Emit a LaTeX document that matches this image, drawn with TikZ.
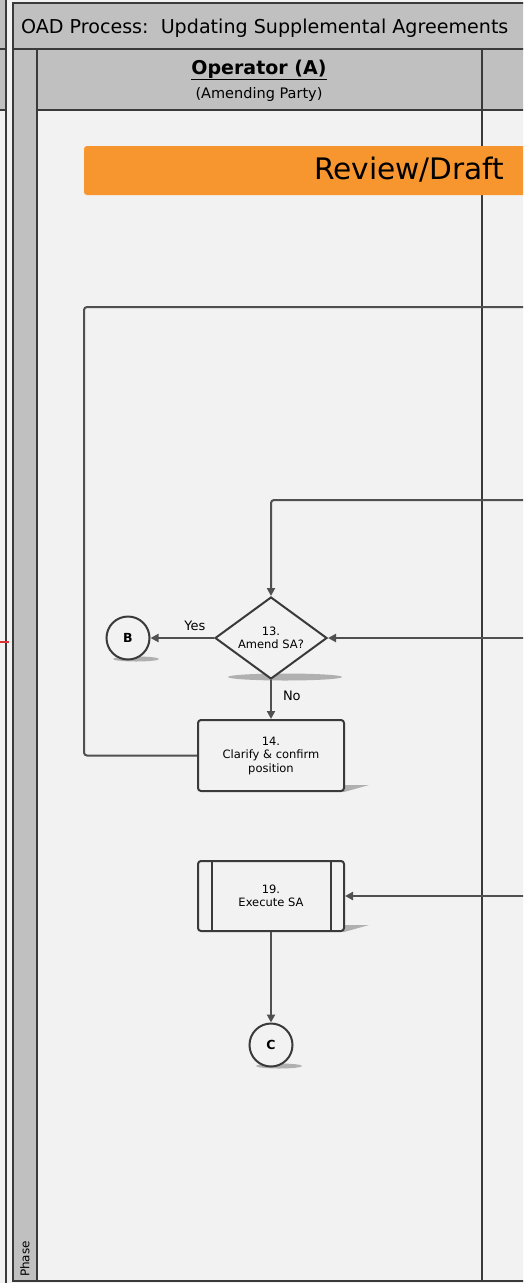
\documentclass[tikz,border=0pt]{standalone}
\usepackage{fontspec}
\setmainfont{DejaVu Sans}
\usetikzlibrary{shapes.geometric,arrows.meta}
\definecolor{lanebg}{HTML}{F2F2F2}
\definecolor{hdr}{HTML}{C0C0C0}
\definecolor{framec}{HTML}{3A3A3A}
\definecolor{conn}{HTML}{505050}
\definecolor{orng}{HTML}{F7962F}
\definecolor{shad}{HTML}{B0B0B0}
\definecolor{redl}{HTML}{DD3333}
\tikzset{
  frameline/.style={draw=framec, line width=2.4pt},
  proc/.style={draw=framec, line width=2pt, rounded corners=3pt, fill=lanebg, minimum width=146pt, inner sep=0pt, align=center, font=\fontsize{11.5}{13.5}\selectfont},
  decis/.style={draw=framec, line width=2pt, diamond, aspect=1.366, minimum width=112pt, minimum height=82pt, inner sep=0pt, fill=lanebg, align=center, font=\fontsize{11.5}{13.3}\selectfont},
  conncirc/.style={draw=framec, line width=2pt, circle, minimum size=43pt, inner sep=0pt, fill=lanebg, font=\bfseries\fontsize{12.5}{14}\selectfont},
  flow/.style={draw=conn, line width=2pt, -{Triangle[length=8pt,width=8pt]}},
  flowplain/.style={draw=conn, line width=2pt, rounded corners=3pt},
  lbl/.style={font=\fontsize{13}{15}\selectfont, inner sep=0pt},
  shadowc/.style={fill=shad, draw=none}
}
\begin{document}
\begin{tikzpicture}[x=1pt,y=-1pt]
\useasboundingbox (0,0) rectangle (523,1283);
\clip (0,0) rectangle (523,1283);
\fill[lanebg] (0,0) rectangle (523,1283);
% left strip (previous page)
\fill[hdr] (0,0) rectangle (6,110);
\draw[frameline] (-2,49) -- (6,49);
\draw[frameline] (-2,110) -- (6,110);
\draw[frameline] (6,-2) -- (6,1290);
\draw[redl, line width=2pt] (-1,642) -- (9,642);
% main frame
\fill[hdr] (13,3) rectangle (530,110);
\fill[hdr] (13,49) rectangle (37,1281);
\fill[lanebg] (37,110) rectangle (530,1281);
\draw[frameline] (530,3) -- (13,3) -- (13,1281) -- (530,1281);
\draw[frameline] (13,49) -- (530,49);
\draw[frameline] (37,49) -- (37,1281);
\draw[frameline] (37,110) -- (530,110);
\draw[frameline] (482,49) -- (482,1281);
% headers
\node[anchor=base west, inner sep=0pt, font=\fontsize{19.1}{23}\selectfont] (title) at (21,33) {OAD Process:\ \ Updating Supplemental Agreements};
\node[anchor=base, inner sep=0pt, font=\bfseries\fontsize{19}{22}\selectfont] (oper) at (259,74) {\underline{Operator (A)}};
\node[anchor=base, inner sep=0pt, font=\fontsize{14.5}{17}\selectfont] (amend) at (259,98) {(Amending Party)};
\node[rotate=90, inner sep=0pt, font=\fontsize{12}{14}\selectfont] (phase) at (25,1259) {Phase};
% banner
\fill[orng, rounded corners=3pt] (84,146) rectangle (540,195);
\node[anchor=west, inner sep=0pt, font=\fontsize{29.6}{34}\selectfont] (banner) at (314,170) {Review/Draft};
% shadows
\fill[shadowc] (285,677) ellipse [x radius=57, y radius=3.5];
\fill[shadowc] (136,659) ellipse [x radius=23, y radius=2.5];
\fill[shadowc] (279,1066) ellipse [x radius=23, y radius=2.5];
\fill[shadowc] (336,791) -- (344,785) -- (369,785) -- (344,792) -- cycle;
\fill[shadowc] (336,931) -- (344,925) -- (369,925) -- (344,932) -- cycle;
% nodes
\node[decis] (d13) at (271,638) {13.\\Amend SA?};
\node[conncirc] (cB) at (128,638) {B};
\node[proc, minimum height=71pt] (p14) at (271,755.5) {14.\\Clarify \& confirm\\position};
\node[proc, minimum height=70pt] (p19) at (271,896) {19.\\Execute SA};
\draw[draw=framec, line width=2pt] ([xshift=15pt]p19.north west) -- ([xshift=15pt]p19.south west);
\draw[draw=framec, line width=2pt] ([xshift=-14pt]p19.north east) -- ([xshift=-14pt]p19.south east);
\node[conncirc] (cC) at (271,1045) {C};
% connector end points at the right edge
\coordinate (r1) at (530,307);
\coordinate (r2) at (530,500);
\coordinate (r3) at (530,638);
\coordinate (r4) at (530,896);
% connectors
\draw[flowplain] (p14.west) -- (84,755.5) -- (84,307) -- (r1);
\draw[flow, rounded corners=3pt] (r2) -- (271,500) -- (d13.north);
\draw[flow] (r3) -- (d13.east);
\draw[flow] (d13.west) -- node[lbl, above=6pt, pos=0.3] (yes) {Yes} (cB.east);
\draw[flow] (d13.south) -- node[lbl, right=11pt, pos=0.4] (no) {No} (p14.north);
\draw[flow] (r4) -- (p19.east);
\draw[flow] (p19.south) -- (cC.north);
\end{tikzpicture}
\end{document}
